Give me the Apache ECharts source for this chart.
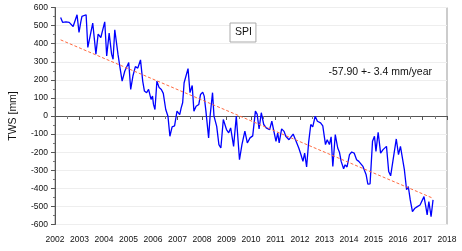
<!DOCTYPE html>
<html>
<head>
<meta charset="utf-8">
<script src="https://cdn.jsdelivr.net/npm/echarts@6/dist/echarts.min.js"></script>
<style>html,body{margin:0;padding:0;background:#fff}#c{width:462px;height:251px}</style>
</head>
<body>
<div id="c"></div>
<script>
// Decimal years and TWS values (mm)
var years = [2002.23,2002.31,2002.45,2002.58,2002.74,2002.80,2002.90,2002.98,2003.05,2003.10,2003.27,2003.34,2003.54,2003.60,2003.67,2003.76,2003.87,2003.93,2004.03,2004.11,2004.21,2004.31,2004.37,2004.44,2004.57,2004.65,2004.74,2004.85,2004.93,2005.01,2005.09,2005.18,2005.28,2005.38,2005.49,2005.58,2005.65,2005.74,2005.82,2005.92,2005.98,2006.02,2006.08,2006.16,2006.25,2006.34,2006.42,2006.52,2006.61,2006.69,2006.78,2006.88,2006.98,2007.09,2007.15,2007.21,2007.27,2007.35,2007.43,2007.51,2007.60,2007.67,2007.76,2007.87,2007.94,2008.03,2008.09,2008.16,2008.27,2008.33,2008.43,2008.49,2008.60,2008.69,2008.77,2008.87,2008.93,2009.00,2009.09,2009.17,2009.29,2009.40,2009.46,2009.53,2009.63,2009.75,2009.85,2009.96,2010.07,2010.18,2010.25,2010.33,2010.42,2010.52,2010.62,2010.76,2010.85,2010.93,2011.02,2011.09,2011.15,2011.25,2011.35,2011.42,2011.55,2011.63,2011.72,2011.84,2011.95,2012.04,2012.12,2012.19,2012.27,2012.35,2012.44,2012.52,2012.62,2012.71,2012.84,2012.93,2013.04,2013.11,2013.20,2013.27,2013.34,2013.44,2013.54,2013.61,2013.68,2013.78,2013.84,2013.92,2014.02,2014.11,2014.21,2014.31,2014.40,2014.48,2014.57,2014.63,2014.70,2014.77,2014.86,2014.96,2015.04,2015.10,2015.19,2015.29,2015.39,2015.53,2015.62,2015.70,2015.79,2015.93,2016.02,2016.10,2016.18,2016.26,2016.35,2016.42,2016.50,2016.59,2016.69,2016.79,2016.90,2016.98,2017.06,2017.13,2017.19,2017.26,2017.35,2017.43];
var tws = [545,518,520,518,495,503,560,462,518,551,560,379,514,505,342,453,434,440,521,332,458,342,314,477,342,270,193,249,254,296,147,221,273,265,310,193,138,129,147,92,110,64,36,193,157,147,125,36,-1,-112,-60,-55,27,8,45,73,184,175,262,129,169,27,54,64,119,132,110,27,-121,-1,129,-1,-57,-158,-177,-19,-10,-75,-93,-66,-168,-1,-10,-242,-158,-84,-149,-121,-110,27,10,-71,18,-47,-66,-75,-29,-40,-140,-93,-149,-71,-85,-112,-131,-122,-100,-140,-177,-214,-251,-205,-282,-149,-47,-60,-1,-29,-38,-55,-158,-131,-158,-115,-279,-103,-177,-200,-251,-292,-270,-282,-214,-199,-205,-242,-251,-245,-279,-285,-325,-377,-375,-140,-112,-196,-90,-205,-186,-168,-307,-331,-251,-127,-214,-168,-175,-297,-408,-390,-464,-529,-510,-501,-492,-485,-446,-497,-547,-473,-557,-464];
// Linear trend end points
var trendYears = [2002.23, 2017.43];
var trendValues = [421, -455];
var seriesName = 'SPI';
var trendText = '-57.90 +- 3.4 mm/year';
var yName = 'TWS [mm]';

var chart = echarts.init(document.getElementById('c'), null, {renderer: 'canvas'});
var font = 'Liberation Sans, Arial, sans-serif';
chart.setOption({
  animation: false,
  backgroundColor: '#fff',
  grid: {left: 45, right: 15, top: 7.5, bottom: 26.5, show: true, borderColor: '#999', borderWidth: 1, backgroundColor: 'transparent'},
  legend: {
    data: [{name: seriesName, icon: 'none'}],
    left: 230, top: 23, itemWidth: 0, itemHeight: 0, itemGap: 0,
    padding: [4, 4, 4, 0], borderColor: '#aaa', borderWidth: 1, backgroundColor: '#fff',
    textStyle: {fontSize: 10.5, color: '#111', fontFamily: font},
    selectedMode: false
  },
  xAxis: {
    type: 'value', min: 2002, max: 2018, interval: 1,
    axisLine: {show: true, lineStyle: {color: '#555'}},
    axisTick: {show: true, length: 4, lineStyle: {color: '#555'}},
    minorTick: {show: true, splitNumber: 2, length: 3, lineStyle: {color: '#777'}},
    axisLabel: {fontSize: 8.5, color: '#111', margin: 11, fontFamily: font, formatter: function(v){return String(Math.round(v));}},
    splitLine: {show: false}
  },
  yAxis: {
    type: 'value', min: -600, max: 600, interval: 100,
    name: yName, nameLocation: 'middle', nameGap: 36, nameRotate: 90,
    nameTextStyle: {fontSize: 10.5, color: '#111', fontFamily: font},
    axisLine: {show: true, lineStyle: {color: '#555'}},
    axisTick: {show: true, length: 4, lineStyle: {color: '#555'}},
    minorTick: {show: true, splitNumber: 2, length: 2, lineStyle: {color: '#777'}},
    axisLabel: {fontSize: 8.5, color: '#111', margin: 7, fontFamily: font},
    splitLine: {show: true, lineStyle: {color: '#eeeeee', width: 1}}
  },
  graphic: [{
    type: 'text', right: 30, top: 67,
    style: {text: trendText, fontSize: 10.5, fill: '#111', font: '10.5px ' + font}
  }],
  series: [{
    name: seriesName, type: 'line', showSymbol: false, symbol: 'none',
    data: years.map(function(y, i){return [y, tws[i]];}),
    lineStyle: {color: '#0000ff', width: 1.3}, itemStyle: {color: '#0000ff'}
  }, {
    name: 'trend', type: 'line', showSymbol: false, symbol: 'none',
    data: trendYears.map(function(y, i){return [y, trendValues[i]];}),
    lineStyle: {color: '#ff6a40', width: 1, type: [3, 2]}, z: 3
  }]
});
</script>
</body>
</html>
